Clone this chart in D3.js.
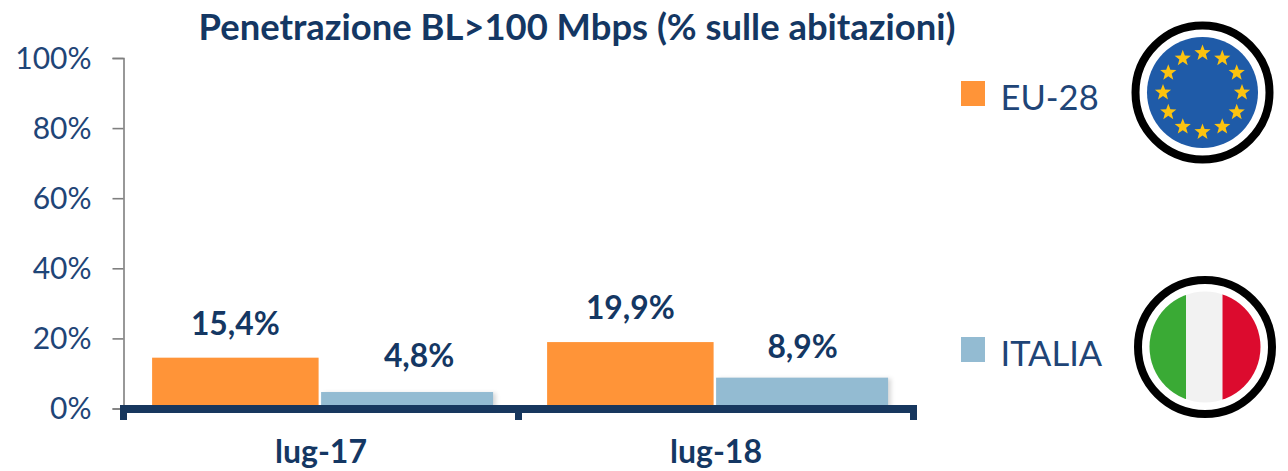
<!DOCTYPE html>
<html>
<head>
<meta charset="utf-8">
<script src="https://cdn.jsdelivr.net/npm/d3@7"></script>
<style>
  html, body { margin: 0; padding: 0; background: #fff; }
  svg { display: block; }
  text { font-family: "Lato", "Noto Sans", sans-serif; }
</style>
</head>
<body>
<svg id="chart" width="1288" height="471"></svg>
<script>
const title = "Penetrazione BL>100 Mbps (% sulle abitazioni)";
const categories = ["lug-17", "lug-18"];
const seriesNames = ["EU-28", "ITALIA"];
// bar heights, the labels are what is printed above them
const euValues = [14.5, 18.95];
const itValues = [4.7, 8.8];
const euLabels = ["15,4%", "19,9%"];
const itLabels = ["4,8%", "8,9%"];
const yTicks = [0, 20, 40, 60, 80, 100];

const navy = "#17375e";
const textBlue = "#1f4577";
const seriesColors = { "EU-28": "#ff9438", "ITALIA": "#93bbd2" };

const svg = d3.select("#chart");

const x = d3.scaleBand().domain(categories).range([123.5, 913.5]);
const y = d3.scaleLinear().domain([0, 100]).range([408.5, 58]);

// the two bars in a group are not quite the same width
const barPos = {
  "EU-28": { x0: 28.6, w: 166.5 },
  "ITALIA": { x0: 197.6, w: 172 }
};
// a couple of labels sit off the usual spot above their bar
const labelNudge = {
  "4,8%": { dx: 12, dy: -2 },
  "8,9%": { dx: 0.5, dy: 3.5 }
};

function drawTitle() {
  svg.append("text")
    .attr("x", 577)
    .attr("y", 40)
    .attr("text-anchor", "middle")
    .attr("font-size", 36.4)
    .attr("font-weight", 700)
    .attr("fill", "#143763")
    .text(title);
}

function drawYAxis() {
  let axis = d3.axisLeft(y)
    .tickValues(yTicks)
    .tickSize(11)
    .tickPadding(21)
    .tickFormat(d => d + "%");
  let g = svg.append("g")
    .attr("transform", "translate(123.5,0)")
    .call(axis);
  g.selectAll("path, line").attr("stroke", "#7f7f7f").attr("stroke-width", 1.6);
  g.selectAll("text")
    .attr("font-size", 30)
    .attr("fill", textBlue)
    .attr("dy", "0.34em");
}

function drawBars() {
  let rows = [];
  categories.forEach((c, i) => {
    rows.push({ cat: c, name: seriesNames[0], value: euValues[i], label: euLabels[i] });
    rows.push({ cat: c, name: seriesNames[1], value: itValues[i], label: itLabels[i] });
  });

  svg.append("g").selectAll("rect")
    .data(rows)
    .join("rect")
    .attr("x", d => x(d.cat) + barPos[d.name].x0)
    .attr("width", d => barPos[d.name].w)
    .attr("y", d => y(d.value))
    .attr("height", d => y(0) - y(d.value))
    .attr("fill", d => seriesColors[d.name])
    .style("filter", d => d.name === "ITALIA" ? "drop-shadow(3px 1px 2px rgba(0,0,0,0.15))" : null);

  svg.append("g").selectAll("text")
    .data(rows)
    .join("text")
    .attr("x", d => {
      let n = labelNudge[d.label];
      return x(d.cat) + barPos[d.name].x0 + barPos[d.name].w / 2 + (n ? n.dx : 0);
    })
    .attr("y", d => {
      let n = labelNudge[d.label];
      return y(d.value) - 23 + (n ? n.dy : 0);
    })
    .attr("text-anchor", "middle")
    .attr("font-size", 31.8)
    .attr("font-weight", 700)
    .attr("fill", "#143763")
    .text(d => d.label);
}

function drawXAxis() {
  let g = svg.append("g");
  g.append("rect")
    .attr("x", 120).attr("y", 405)
    .attr("width", 797).attr("height", 8)
    .attr("fill", navy);
  // ticks at the group edges
  let edges = categories.map(c => x(c)).concat([x.range()[1]]);
  g.selectAll(".edge")
    .data(edges)
    .join("rect")
    .attr("class", "edge")
    .attr("x", d => d - 3.5)
    .attr("y", 405)
    .attr("width", 7)
    .attr("height", 15)
    .attr("fill", navy);
  g.selectAll(".cat")
    .data(categories)
    .join("text")
    .attr("class", "cat")
    .attr("x", d => x(d) + x.bandwidth() / 2)
    .attr("y", 463)
    .attr("text-anchor", "middle")
    .attr("font-size", 32)
    .attr("font-weight", 700)
    .attr("fill", "#143763")
    .text(d => d);
}

function drawLegend() {
  let legendY = d3.scalePoint().domain(seriesNames).range([93.5, 349.5]);
  let g = svg.append("g").selectAll("g")
    .data(seriesNames)
    .join("g")
    .attr("transform", d => `translate(961,${legendY(d)})`);
  g.append("rect")
    .attr("y", -12.5)
    .attr("width", 24)
    .attr("height", 25)
    .attr("fill", d => seriesColors[d]);
  g.append("text")
    .attr("x", 39.5)
    .attr("y", 16)
    .attr("font-size", 34.5)
    .attr("fill", textBlue)
    .text(d => d);
}

function starPath(r) {
  let pts = d3.range(10).map(i => {
    let a = i * Math.PI / 5 - Math.PI / 2;
    let rr = i % 2 ? r * 0.42 : r;
    return [rr * Math.cos(a), rr * Math.sin(a)];
  });
  return d3.line()(pts) + "Z";
}

function ring(g) {
  g.append("circle").attr("r", 67).attr("fill", "#fff").attr("stroke", "#000").attr("stroke-width", 8);
}

function drawFlags() {
  let eu = svg.append("g").attr("transform", "translate(1202.5,92.5)");
  ring(eu);
  eu.append("circle").attr("r", 55.5).attr("fill", "#1f5ba8");
  eu.selectAll("path")
    .data(d3.range(12))
    .join("path")
    .attr("d", starPath(8.5))
    .attr("transform", d => {
      let a = d * Math.PI / 6;
      return `translate(${39.5 * Math.sin(a)},${-39.5 * Math.cos(a)})`;
    })
    .attr("fill", "#fcc30f");

  let it = svg.append("g").attr("transform", "translate(1205,347)");
  ring(it);
  let clip = svg.append("clipPath").attr("id", "itclip");
  clip.append("circle").attr("r", 55.5);
  let stripes = it.append("g").attr("clip-path", "url(#itclip)");
  stripes.append("rect").attr("x", -56).attr("y", -56).attr("width", 37).attr("height", 112).attr("fill", "#3aaa35");
  stripes.append("rect").attr("x", -19).attr("y", -56).attr("width", 36.5).attr("height", 112).attr("fill", "#f2f2f2");
  stripes.append("rect").attr("x", 17.5).attr("y", -56).attr("width", 39).attr("height", 112).attr("fill", "#dc0b2e");
}

drawTitle();
drawBars();
drawYAxis();
drawXAxis();
drawLegend();
drawFlags();
</script>
</body>
</html>
